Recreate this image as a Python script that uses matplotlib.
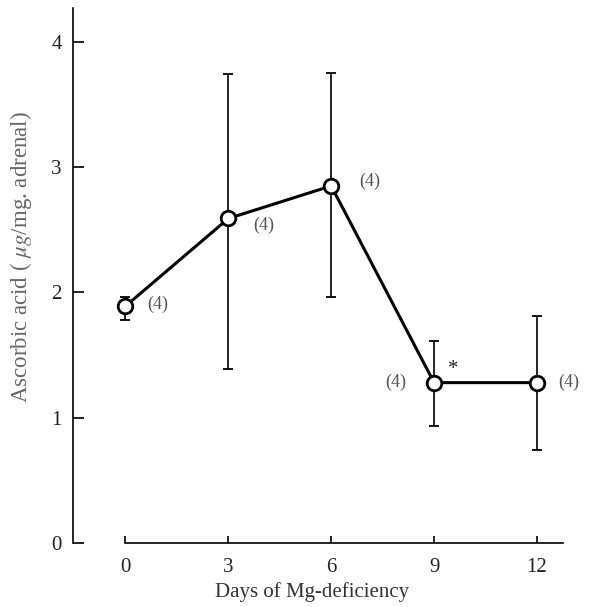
import matplotlib
matplotlib.use("Agg")
import matplotlib.pyplot as plt

days = [0, 3, 6, 9, 12]
mean = [1.89, 2.59, 2.85, 1.28, 1.28]
upper = [1.96, 3.74, 3.75, 1.61, 1.81]
lower = [1.78, 1.39, 1.96, 0.93, 0.74]
n_labels = ["(4)", "(4)", "(4)", "(4)", "(4)"]
label_offsets = [(16, 1), (18, -5), (20, 3), (-35, 0), (15, 0)]
xticks = [0, 3, 6, 9, 12]
yticks = [0, 1, 2, 3, 4]

plt.rcParams['font.family'] = ['Liberation Serif', 'DejaVu Serif']
plt.rcParams['mathtext.fontset'] = 'stix'

W, H = 592, 607
fig = plt.figure(figsize=(W / 100, H / 100), dpi=100)
ax = fig.add_axes([73 / W, 1 - 543 / H, 490 / W, 535 / H])
ax.set_xlim(-1.53, 12.76)
ax.set_ylim(0, 4.27)

yerr = [[m - l for m, l in zip(mean, lower)], [u - m for m, u in zip(mean, upper)]]
ax.errorbar(days, mean, yerr=yerr, fmt='none', ecolor='black', elinewidth=1.2,
            capsize=3.6, capthick=1.3, zorder=2)
ax.plot(days, mean, '-', color='black', lw=2.2, zorder=3)
ax.plot(days, mean, 'o', ms=10.5, mfc='white', mec='black', mew=2.0, zorder=4)

for x, y, t, off in zip(days, mean, n_labels, label_offsets):
    ax.annotate(t, (x, y), xytext=off, textcoords='offset points', ha='left',
                va='center', fontsize=13, color='#555555')
ax.annotate('*', (days[3], upper[3]), xytext=(10, -20), textcoords='offset points',
            ha='left', va='center', fontsize=15, color='#222222')

for s in ['top', 'right']:
    ax.spines[s].set_visible(False)
ax.spines['bottom'].set_bounds(0, 12.76)
ax.spines['left'].set_bounds(0, 4.27)
for s in ['left', 'bottom']:
    ax.spines[s].set_linewidth(1.2)

ax.set_xticks(xticks)
ax.set_yticks(yticks)
ax.tick_params(axis='y', direction='in', length=8, width=1.4, labelsize=15,
               pad=8, colors='#222222')
ax.tick_params(axis='x', direction='in', length=5, width=1.4, labelsize=15,
               pad=11, colors='#222222')

ax.set_xlabel('Days of Mg-deficiency', fontsize=15, color='#333333')
ax.xaxis.set_label_coords((312 - 73) / 490, -(582 - 543) / 535)
ax.set_ylabel('Ascorbic acid ( $\\mu g$/mg. adrenal)', fontsize=16.5, color='#666666')
ax.yaxis.set_label_coords((34 - 73) / 490, (543 - 257) / 535)

fig.savefig('out.png', dpi=100)
